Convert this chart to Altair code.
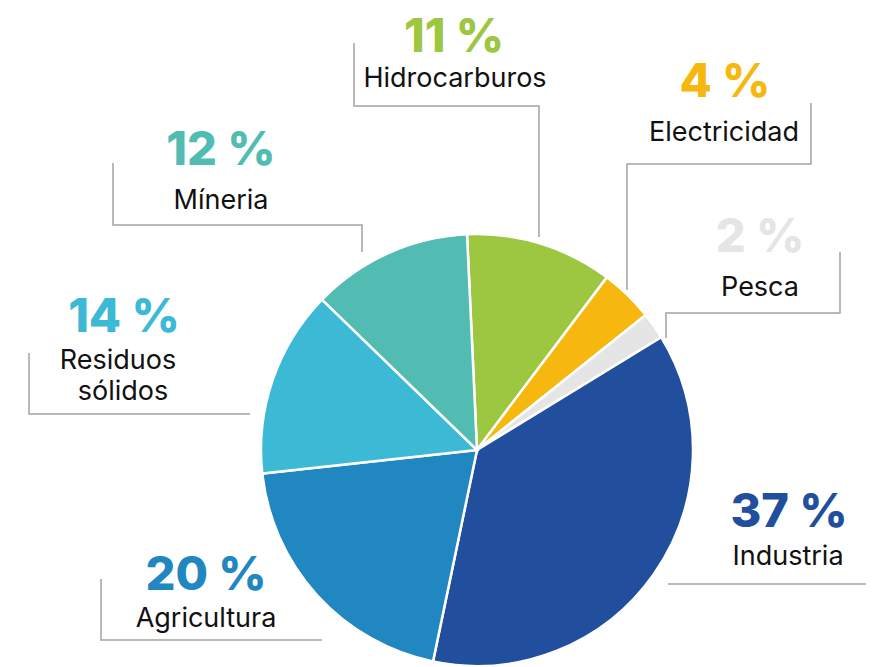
import math
import altair as alt
import pandas as pd

# ---- data ----
categories = ["Hidrocarburos", "Electricidad", "Pesca", "Industria",
              "Agricultura", "Residuos sólidos", "Míneria"]
shares = [11, 4, 2, 37, 20, 14, 12]
colors = ["#9DC641", "#F6B80F", "#E5E5E5", "#214F9E",
          "#2187C0", "#3BB9D5", "#52BCB3"]
pct_labels = ["11 %", "4 %", "2 %", "37 %", "20 %", "14 %", "12 %"]
name_lines = [["Hidrocarburos"], ["Electricidad"], ["Pesca"], ["Industria"],
              ["Agricultura"], ["Residuos", "sólidos"], ["Míneria"]]

# ---- layout (page pixel coordinates of the annotations) ----
pct_pos = [(454, 52), (725, 97), (760, 252), (789, 527),
           (206, 590), (124, 332), (221, 165)]
name_pos = [[(455, 87)], [(724, 141)], [(760, 296)], [(788, 565)],
            [(206, 627)], [(118, 369), (123, 400)], [(221, 209)]]
leaders = [
    [(354, 43), (354, 106), (539, 106), (539, 237)],
    [(811, 103), (811, 164), (627, 164), (627, 290)],
    [(840, 252), (840, 313), (666, 313), (666, 338)],
    [(668, 584), (874, 584)],
    [(101, 579), (101, 640), (322, 640)],
    [(29, 353), (29, 414), (250, 414)],
    [(113, 163), (113, 225), (362, 225), (362, 252)],
]

M = 8
W, H = 874 - 2 * M, 667 - M
CX, CY, R = 477 - M, 450 - M, 216
start = -0.0463

pie_df = pd.DataFrame({"cat": categories, "value": shares,
                       "ord": list(range(len(categories)))})

pct_df = pd.DataFrame({"cat": categories, "text": pct_labels,
                       "x": [p[0] for p in pct_pos], "y": [p[1] for p in pct_pos]})

name_rows = []
for c, lines, poss in zip(categories, name_lines, name_pos):
    for t, (x, y) in zip(lines, poss):
        name_rows.append({"cat": c, "text": t, "x": x, "y": y})
name_df = pd.DataFrame(name_rows)

lead_rows = []
for c, pts in zip(categories, leaders):
    for i, (x, y) in enumerate(pts):
        lead_rows.append({"cat": c, "i": i, "x": x, "y": y})
lead_df = pd.DataFrame(lead_rows)

xs = alt.Scale(domain=[M, M + W], range=[0, W])
ys = alt.Scale(domain=[M, M + H], range=[0, H])
color_scale = alt.Scale(domain=categories, range=colors)

pie = alt.Chart(pie_df).mark_arc(outerRadius=R, stroke="white", strokeWidth=2.5).encode(
    x=alt.value(CX), y=alt.value(CY),
    theta=alt.Theta("value:Q", stack=True,
                    scale=alt.Scale(range=[start, start + 2 * math.pi])),
    order=alt.Order("ord:Q", sort="ascending"),
    color=alt.Color("cat:N", scale=color_scale, legend=None),
)

lines = alt.Chart(lead_df).mark_line(color="#A3A3A3", strokeWidth=1.5).encode(
    x=alt.X("x:Q", scale=xs, axis=None),
    y=alt.Y("y:Q", scale=ys, axis=None),
    detail="cat:N",
    order="i:Q",
)

pct_text = alt.Chart(pct_df).mark_text(
    font="Inter", fontSize=47, fontWeight=800, baseline="alphabetic", align="center"
).encode(
    x=alt.X("x:Q", scale=xs, axis=None),
    y=alt.Y("y:Q", scale=ys, axis=None),
    text="text:N",
    color=alt.Color("cat:N", scale=color_scale, legend=None),
)

name_text = alt.Chart(name_df).mark_text(
    font="Inter", fontSize=27, baseline="alphabetic", align="center", color="#111111"
).encode(
    x=alt.X("x:Q", scale=xs, axis=None),
    y=alt.Y("y:Q", scale=ys, axis=None),
    text="text:N",
)

chart = alt.layer(lines, pie, pct_text, name_text).properties(
    width=W, height=H, autosize=alt.AutoSizeParams(type="none"), padding=0
).configure_view(stroke=None)

chart.save("out.html", embed_options={"renderer": "svg", "actions": False})
